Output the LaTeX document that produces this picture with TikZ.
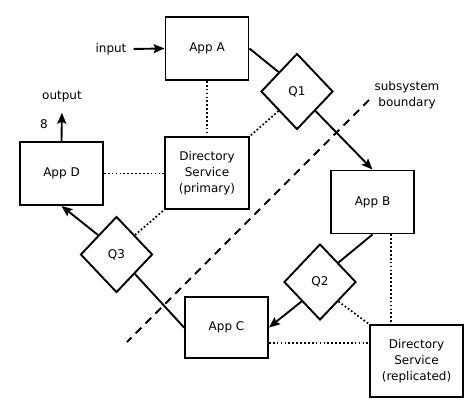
\documentclass[tikz,border=0pt]{standalone}
\usepackage{fontspec}
\setmainfont{DejaVu Sans}
\usetikzlibrary{shapes.geometric,arrows.meta}

\begin{document}
\begin{tikzpicture}[x=1pt,y=-1pt,line width=1.9pt,
    font=\fontsize{12}{16}\selectfont,
    >={Stealth[length=11pt,width=9pt,inset=2pt]},
    app/.style={draw,minimum width=83pt,minimum height=63pt,inner sep=0pt},
    dir/.style={draw,minimum width=84pt,minimum height=72pt,inner sep=0pt,align=center},
    queue/.style={draw,diamond,minimum width=72pt,minimum height=76pt,inner sep=0pt},
    link/.style={line width=1.7pt,dash pattern=on 1.7pt off 2.2pt}]
    \useasboundingbox (0,0) rectangle (474,412);
    % applications and queues
    \node [app] (appA) at (207,48.5) {App A};
    \node [app] (appB) at (372.5,202) {App B};
    \node [app,minimum height=61pt] (appC) at (226.5,327.5) {App C};
    \node [app] (appD) at (61.5,173.5) {App D};
    \node [queue] (q1) at (297,91.5) {Q1};
    \node [queue] (q2) at (320,282) {Q2};
    \node [queue] (q3) at (116.5,254.5) {Q3};
    \node [dir] (dsP) at (207,173) {Directory\\Service\\(primary)};
    \node [dir,minimum width=93pt] (dsR) at (416.5,361) {Directory\\Service\\(replicated)};
    \node (input) at (111,49) {input};
    \node (output) at (62,97) {output};
    \node (eight) at (44,124) {8};
    \node [align=center] (bound) at (407,95) {subsystem\\boundary};
    % message flow
    \draw [->,shorten <=3pt] (input.east)--(appA.west);
    \draw (appA.east)--(q1.north west);
    \draw [->] (q1.south east)--(appB.north);
    \draw (appB.south)--(q2.north east);
    \draw [->] (q2.south west)--(appC.east);
    \draw (appC.west)--(q3.south east);
    \draw [->] (q3.north west)--(appD.south);
    \draw [->,shorten >=6pt] (appD.north)--(output.south);
    % directory lookups
    \draw [link] (appA.south)--(dsP.north);
    \draw [link] (q1.south west)--(dsP.north east);
    \draw [link] (appD.east)--(appD.east -| dsP.west);
    \draw [link] (q3.north east)--(dsP.south west);
    \draw [link] (appB.-60)--(appB.-60 |- dsR.north);
    \draw [link] (q2.south east)--(dsR.north west);
    \draw [link] (appC.-20)--(appC.-20 -| dsR.west);
    % boundary
    \coordinate (bTop) at (369,100);
    \coordinate (bBot) at (127,342);
    \draw [dash pattern=on 8pt off 6pt] (bTop)--(bBot);
\end{tikzpicture}
\end{document}
